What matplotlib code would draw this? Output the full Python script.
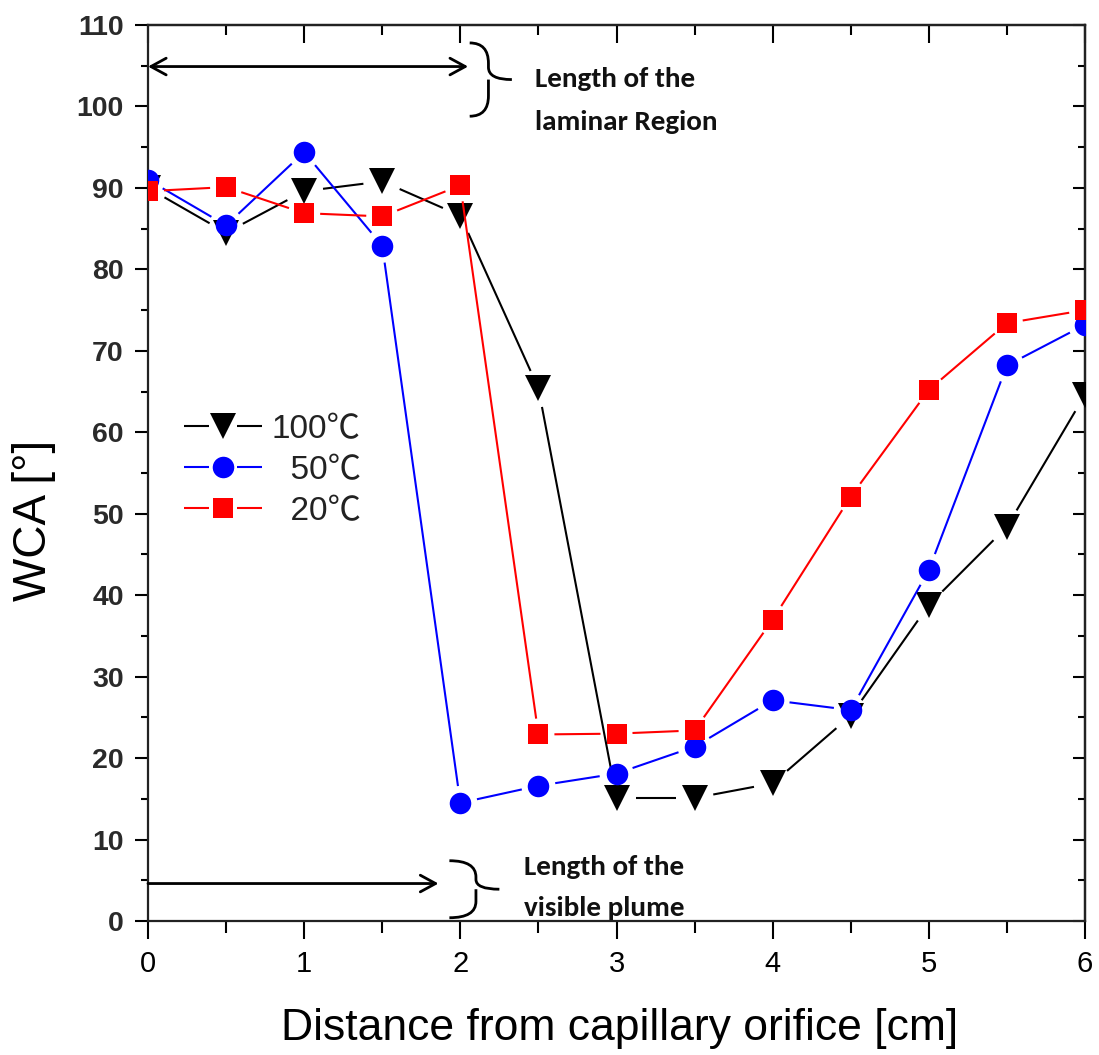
import matplotlib
matplotlib.use("Agg")
import matplotlib.pyplot as plt
import numpy as np
from matplotlib import font_manager
from matplotlib.lines import Line2D
from matplotlib.legend_handler import HandlerBase
from matplotlib.path import Path
from matplotlib.patches import PathPatch
from matplotlib.ticker import MultipleLocator

# ---- data -----------------------------------------------------------------
distance = [0, 0.5, 1, 1.5, 2, 2.5, 3, 3.5, 4, 4.5, 5, 5.5, 6]
wca_100 = [90.0, 84.5, 89.6, 90.8, 86.6, 65.4, 15.1, 15.1, 16.9, 25.2, 38.8, 48.4, 64.6]
wca_50 = [91.0, 85.4, 94.4, 82.9, 14.5, 16.6, 18.1, 21.4, 27.1, 25.9, 43.1, 68.2, 73.2]
wca_20 = [89.6, 90.1, 86.9, 86.5, 90.3, 22.9, 23.0, 23.4, 37.0, 52.1, 65.2, 73.4, 75.0]
series_labels = ["100\u2103", "  50\u2103", "  20\u2103"]

x_ticks = [0, 1, 2, 3, 4, 5, 6]
y_ticks = list(range(0, 111, 10))


def has_font(name):
    try:
        font_manager.findfont(font_manager.FontProperties(family=name),
                              fallback_to_default=False)
        return True
    except ValueError:
        return False


SANS = "Liberation Sans" if has_font("Liberation Sans") else "DejaVu Sans"
NOTE = next((f for f in ["Carlito", "Lato", "Open Sans"] if has_font(f)), "DejaVu Sans")
LEG_FAMILY = [SANS, "Noto Sans CJK SC", "DejaVu Sans"]

fig = plt.figure(figsize=(10.99, 10.55), dpi=100)
ax = fig.add_axes([148 / 1099, 1 - 921 / 1055, 937 / 1099, 896 / 1055])
ax.set_xlim(0, 6)
ax.set_ylim(0, 110)

# ---- axes frame and ticks -------------------------------------------------
for sp in ax.spines.values():
    sp.set_linewidth(1.6)
    sp.set_color("#222222")

ax.xaxis.set_major_locator(MultipleLocator(1))
ax.xaxis.set_minor_locator(MultipleLocator(0.5))
ax.yaxis.set_major_locator(MultipleLocator(10))
ax.yaxis.set_minor_locator(MultipleLocator(5))
ax.set_xticks(x_ticks)
ax.set_yticks(y_ticks)
ax.set_xticklabels([str(v) for v in x_ticks], fontsize=21, family=SANS)
ax.set_yticklabels([str(v) for v in y_ticks], fontsize=20.5, family=SANS,
                   fontweight="bold", color="#2a2a2a")
ax.tick_params(axis="x", which="major", direction="out", length=13, width=1.5, pad=8,
               top=False)
ax.tick_params(axis="x", which="minor", direction="out", length=8.5, width=1.5, top=False)
ax.tick_params(axis="y", which="major", direction="out", length=9.5, width=1.5, pad=8,
               right=False)
ax.tick_params(axis="y", which="minor", direction="out", length=5, width=1.5, right=False)

top = ax.secondary_xaxis("top")
top.xaxis.set_major_locator(MultipleLocator(1))
top.xaxis.set_minor_locator(MultipleLocator(0.5))
top.tick_params(which="major", direction="in", length=13, width=1.5, labeltop=False)
top.tick_params(which="minor", direction="in", length=7, width=1.5)
top.spines["top"].set_linewidth(1.6)

right = ax.secondary_yaxis("right")
right.yaxis.set_major_locator(MultipleLocator(10))
right.yaxis.set_minor_locator(MultipleLocator(5))
right.tick_params(which="major", direction="in", length=9, width=1.5, labelright=False)
right.tick_params(which="minor", direction="in", length=5, width=1.5)
right.spines["right"].set_linewidth(1.6)

ax.set_xlabel("Distance from capillary orifice [cm]", fontsize=32, family=SANS)
ax.set_ylabel("WCA [\u00b0]", fontsize=33, family=SANS)
ax.xaxis.set_label_coords(0.503, -0.097)
ax.yaxis.set_label_coords(-0.098, 0.447)


# ---- series: segments stop short of each marker ---------------------------
def draw_gapped(xs, ys, color, lw, gap_px, z):
    pts = ax.transData.transform(np.column_stack([xs, ys]))
    inv = ax.transData.inverted()
    for p0, p1 in zip(pts[:-1], pts[1:]):
        d = p1 - p0
        length = np.hypot(d[0], d[1])
        if length <= 2 * gap_px:
            continue
        u = d / length
        a = inv.transform(p0 + u * gap_px)
        b = inv.transform(p1 - u * gap_px)
        ax.plot([a[0], b[0]], [a[1], b[1]], color=color, lw=lw, zorder=z,
                solid_capstyle="butt")


styles = [
    (wca_100, "black", "v", 19, 19),
    (wca_50, "#0000ff", "o", 15.5, 17),
    (wca_20, "#ff0000", "s", 14.5, 16),
]
for i, (vals, color, marker, ms, gap) in enumerate(styles):
    z = 3 + i
    draw_gapped(distance, vals, color, 1.5, gap, z)
    ax.plot(distance, vals, linestyle="none", marker=marker, ms=ms, color=color,
            markeredgewidth=0, zorder=z + 0.5)


# ---- legend ---------------------------------------------------------------
class GapLineHandler(HandlerBase):
    def __init__(self, gap=10, **kw):
        super().__init__(**kw)
        self.gap = gap

    def create_artists(self, legend, orig_handle, xdescent, ydescent, width, height,
                       fontsize, trans):
        y = height / 2 - ydescent
        x0 = -xdescent
        x1 = x0 + width
        xm = (x0 + x1) / 2
        kw = dict(color=orig_handle.get_color(), lw=orig_handle.get_linewidth(),
                  solid_capstyle="butt")
        s1 = Line2D([x0, xm - self.gap], [y, y], **kw)
        s2 = Line2D([xm + self.gap, x1], [y, y], **kw)
        mk = Line2D([xm], [y], linestyle="none", marker=orig_handle.get_marker(),
                    ms=orig_handle.get_markersize(), color=orig_handle.get_color(),
                    markeredgewidth=0)
        for a in (s1, s2, mk):
            a.set_transform(trans)
        return [s1, s2, mk]


proxies = [Line2D([], [], color=c, lw=1.5, marker=m, ms=ms)
           for (_, c, m, ms, _) in styles]
leg = ax.legend(proxies, series_labels, loc="center left",
                bbox_to_anchor=(0.038, 0.503), frameon=False, borderpad=0,
                borderaxespad=0, handlelength=2.35, handletextpad=0.3,
                labelspacing=0.3, prop={"family": LEG_FAMILY, "size": 24},
                handler_map={Line2D: GapLineHandler(gap=10)})
for t in leg.get_texts():
    t.set_color("#222222")


# ---- annotations ----------------------------------------------------------
def brace(x_left, x_spine, x_tip, y_top, y_mid, y_bot, r):
    verts = [
        (x_left, y_top), (x_spine, y_top), (x_spine, y_top - r),
        (x_spine, y_mid + r * 0.6), (x_spine, y_mid), (x_tip, y_mid),
        (x_spine, y_mid), (x_spine, y_mid - r * 0.6),
        (x_spine, y_bot + r), (x_spine, y_bot), (x_left, y_bot),
    ]
    codes = [Path.MOVETO, Path.CURVE3, Path.CURVE3,
             Path.LINETO, Path.CURVE3, Path.LINETO,
             Path.MOVETO, Path.CURVE3,
             Path.LINETO, Path.CURVE3, Path.CURVE3]
    ax.add_patch(PathPatch(Path(verts, codes), fill=False, lw=2.0, color="black",
                           capstyle="butt", joinstyle="round", zorder=6, clip_on=False))


note_kw = dict(fontsize=21, family=NOTE, fontweight="bold", va="baseline",
               ha="left", zorder=6, color="#111111")
arrow_kw = dict(lw=2.0, color="black", shrinkA=0, shrinkB=0, mutation_scale=20)

ax.annotate("", xy=(2.05, 104.9), xytext=(0.0, 104.9),
            arrowprops=dict(arrowstyle="<->,head_length=0.55,head_width=0.3", **arrow_kw))
brace(2.06, 2.18, 2.33, 107.8, 103.3, 98.8, 2.5)
ax.text(2.48, 102.4, "Length of the", **note_kw)
ax.text(2.48, 97.1, "laminar Region", **note_kw)

ax.annotate("", xy=(1.86, 4.6), xytext=(0.0, 4.6),
            arrowprops=dict(arrowstyle="->,head_length=0.55,head_width=0.3", **arrow_kw))
brace(1.93, 2.10, 2.25, 7.4, 3.9, 0.4, 2.0)
ax.text(2.41, 5.6, "Length of the", **note_kw)
ax.text(2.41, 0.6, "visible plume", **note_kw)

fig.savefig("out.png", dpi=100)
